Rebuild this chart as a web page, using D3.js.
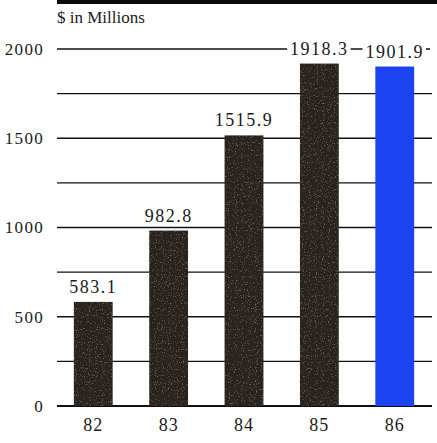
<!DOCTYPE html>
<html>
<head>
<meta charset="utf-8">
<script src="https://cdn.jsdelivr.net/npm/d3@7"></script>
<style>
  html, body { margin: 0; padding: 0; background: #fff; }
</style>
</head>
<body>
<svg id="chart" width="437" height="443"></svg>
<script>
const years = ["82", "83", "84", "85", "86"];
const values = [583.1, 982.8, 1515.9, 1918.3, 1901.9];
const valueLabels = ["583.1", "982.8", "1515.9", "1918.3", "1901.9"];
const yTicks = [0, 500, 1000, 1500, 2000];
const gridValues = [0, 250, 500, 750, 1000, 1250, 1500, 1750, 2000];
const barColors = ["#29201a", "#29201a", "#29201a", "#29201a", "#1b43f2"];

const FONT = '"Liberation Serif", "Times New Roman", serif';
const INK = "#1a1a1a";
const svg = d3.select("#chart");
const W = 437;

// speckled print grain for the dark bars
const defs = svg.append("defs");
const grain = defs.append("filter").attr("id", "grain").attr("x", 0).attr("y", 0).attr("width", 1).attr("height", 1);
grain.append("feTurbulence").attr("type", "fractalNoise").attr("baseFrequency", 0.85).attr("numOctaves", 2).attr("seed", 3).attr("result", "noise");
grain.append("feColorMatrix").attr("in", "noise").attr("type", "matrix")
  .attr("values", "0 0 0 0 0.45  0 0 0 0 0.36  0 0 0 0 0.27  1.6 0 0 0 -0.95").attr("result", "speck");
grain.append("feComposite").attr("in", "speck").attr("in2", "SourceGraphic").attr("operator", "in").attr("result", "speckIn");
grain.append("feMerge").call(m => {
  m.append("feMergeNode").attr("in", "SourceGraphic");
  m.append("feMergeNode").attr("in", "speckIn");
});

const x = d3.scaleBand().domain(years).range([55, 433]).paddingInner(0.485).paddingOuter(0.25);
const y = d3.scaleLinear().domain([0, 2000]).range([406, 49]);

// heading rule and title
svg.append("rect").attr("x", 57).attr("y", 0).attr("width", W - 57).attr("height", 4).attr("fill", "#0a0a0a");
svg.append("text").attr("x", 57).attr("y", 23)
  .style("font-family", FONT).style("font-size", "17px").style("fill", INK)
  .text("$ in Millions");

// horizontal grid lines
svg.append("g").selectAll("line").data(gridValues).join("line")
  .attr("x1", 57).attr("x2", d => d === 2000 ? 430 : 432)
  .attr("y1", d => y(d)).attr("y2", d => y(d))
  .attr("stroke", "#111").attr("stroke-width", d => d === 0 ? 2 : 1.3);

// y axis labels
const yAxis = d3.axisLeft(y).tickValues(yTicks).tickFormat(d3.format("d")).tickSize(0).tickPadding(0);
const ya = svg.append("g").attr("transform", "translate(44,0)").call(yAxis);
ya.select(".domain").remove();
ya.selectAll("text")
  .style("font-family", FONT).style("font-size", "17px").style("fill", INK)
  .attr("letter-spacing", 1.3);

// bars
svg.append("g").selectAll("rect").data(values).join("rect")
  .attr("x", (d, i) => x(years[i]))
  .attr("width", x.bandwidth())
  .attr("y", d => y(d))
  .attr("height", d => y(0) - y(d))
  .attr("fill", (d, i) => barColors[i])
  .attr("filter", (d, i) => i < 4 ? "url(#grain)" : null);

// value labels with white knockout behind them
const lab = svg.append("g").selectAll("g").data(values).join("g")
  .attr("transform", (d, i) => `translate(${x(years[i]) + x.bandwidth() / 2},${y(d) - 9})`);
lab.append("text")
  .attr("text-anchor", "middle").attr("letter-spacing", 1.5)
  .style("font-family", FONT).style("font-size", "18px").style("fill", INK)
  .text((d, i) => valueLabels[i]);
lab.each(function () {
  const g = d3.select(this);
  const b = g.select("text").node().getBBox();
  g.insert("rect", "text").attr("x", b.x - 3).attr("y", b.y + 3).attr("width", b.width + 5).attr("height", b.height - 5).attr("fill", "#fff");
});

// x axis labels
const xAxis = d3.axisBottom(x).tickSize(0).tickPadding(0);
const xa = svg.append("g").attr("transform", "translate(0,418)").call(xAxis);
xa.select(".domain").remove();
xa.selectAll("text")
  .style("font-family", FONT).style("font-size", "18px").style("fill", INK)
  .attr("letter-spacing", 1);
</script>
</body>
</html>
